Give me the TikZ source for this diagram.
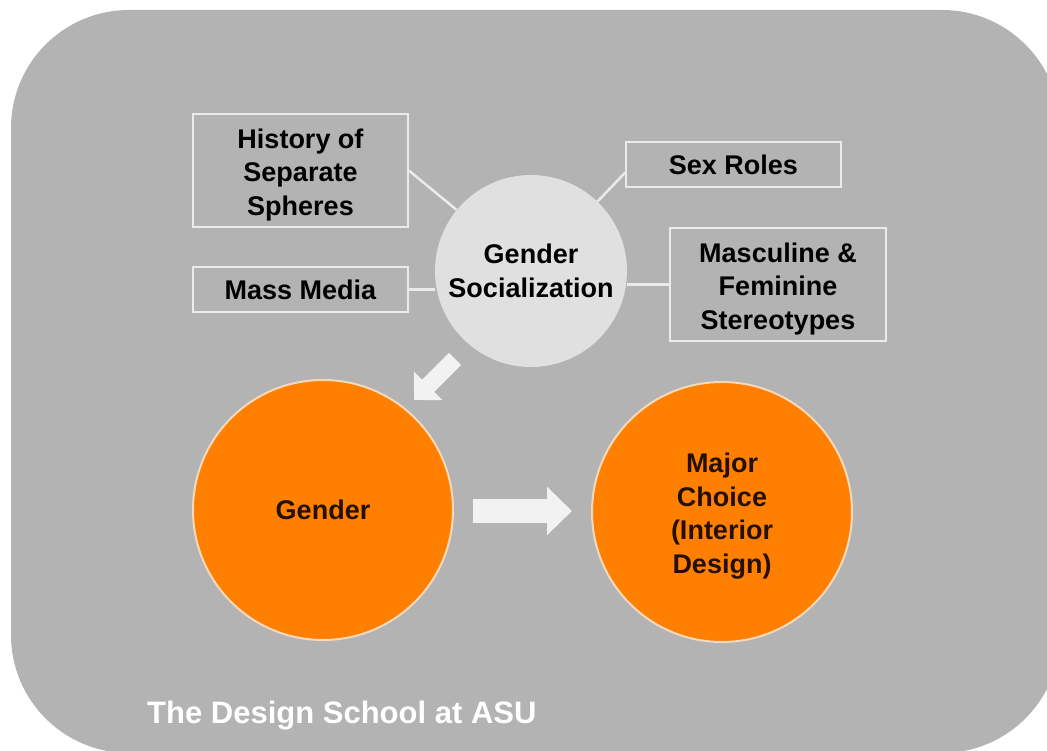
\documentclass[tikz,border=0pt]{standalone}
\usepackage{fontspec}
\setmainfont{Liberation Sans}
\usetikzlibrary{arrows.meta}
\definecolor{bggray}{HTML}{B3B3B3}
\definecolor{boxline}{HTML}{EBEBEB}
\definecolor{gscirc}{HTML}{E0E0E0}
\definecolor{orng}{HTML}{FF7F00}
\definecolor{orngline}{HTML}{F6D9BC}
\definecolor{arrw}{HTML}{F2F2F2}
\definecolor{darktxt}{HTML}{231000}
\tikzset{
  txt/.style={font=\fontsize{27}{33.5}\selectfont\bfseries, align=center},
  factorbox/.style={txt, draw=boxline, line width=1.5pt, fill=bggray, text=black, inner sep=0pt},
  gscircle/.style={txt, circle, fill=gscirc, minimum size=192pt, inner sep=0pt, text=black},
  orcircle/.style={txt, circle, fill=orng, draw=orngline, line width=2pt, minimum size=260pt, inner sep=0pt, text=darktxt},
  lowtext/.style={label={[txt, text=#1, inner sep=0pt, yshift=-4.5pt]center:\usebox0}},
  link/.style={draw=boxline, line width=2.5pt},
  blockarrow/.style={draw=arrw, line width=#1}
}
\begin{document}
\begin{tikzpicture}[x=1pt, y=-1pt]
\useasboundingbox (0,0) rectangle (1047,751);
\fill[bggray, rounded corners=118pt] (11,10) rectangle (1060,753);

\node[factorbox, minimum width=215pt, minimum height=113pt,
  label={[txt, text=black, inner sep=0pt, yshift=-4.5pt]center:History of\\Separate\\Spheres}] (hist) at (300.5,170.5) {};
\node[factorbox, minimum width=215pt, minimum height=45pt] (mm) at (300.5,289.5) {Mass Media};
\node[factorbox, minimum width=215pt, minimum height=45pt] (sex) at (733.5,164.5) {Sex Roles};
\node[factorbox, minimum width=216pt, minimum height=113pt,
  label={[txt, text=black, inner sep=0pt, yshift=-4.5pt]center:Masculine \&\\Feminine\\Stereotypes}] (masc) at (778,284.5) {};

\node[gscircle] (gs) at (531,271) {Gender\\Socialization};

\draw[link] (hist.east) -- (gs);
\draw[link] ([yshift=-8pt]sex.west) -- (gs);
\draw[link] (mm.east) -- (gs.west |- mm.east);
\draw[link] (masc.west) -- (gs.east |- masc.west);

\node[orcircle] (gender) at (323,510) {Gender};
\node[orcircle,
  label={[txt, text=darktxt, inner sep=0pt, yshift=-4pt]center:Major\\Choice\\(Interior\\Design)}] (major) at (722,512) {};

\coordinate (d1) at (455,359);
\coordinate (d2) at (414,400);
\draw[blockarrow=17pt, -{Triangle[length=20pt, width=39pt]}, arrw] (d1) -- (d2);
\coordinate (h1) at (473,511);
\coordinate (h2) at (572,511);
\draw[blockarrow=24pt, -{Triangle[length=25pt, width=47pt]}, arrw] (h1) -- (h2);

\node[anchor=base west, inner sep=0pt, text=white, font=\fontsize{31}{36}\selectfont\bfseries] (school) at (147,723) {The Design School at ASU};
\end{tikzpicture}
\end{document}
